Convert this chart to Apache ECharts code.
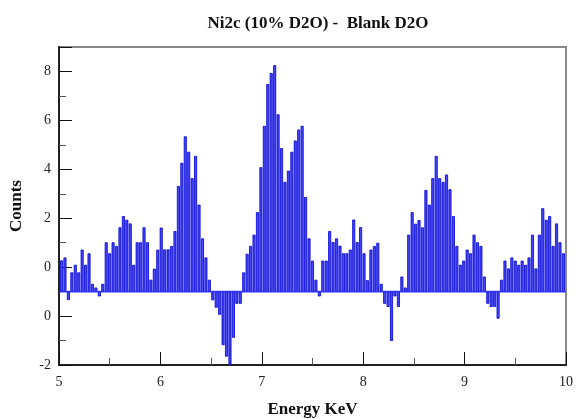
<!DOCTYPE html>
<html>
<head>
<meta charset="utf-8">
<title>Ni2c (10% D2O) - Blank D2O</title>
<script src="https://cdn.jsdelivr.net/npm/echarts@6/dist/echarts.min.js"></script>
<style>
  html, body { margin: 0; padding: 0; background: #fff; }
  #chart { width: 582px; height: 419px; }
</style>
</head>
<body>
<div id="chart"></div>
<script>
// Difference spectrum: counts per energy bin (bars drawn up/down from the baseline)
const firstBinCenter = 5.025;   // keV
const binWidth = 0.0339;        // keV
const baseline = -1;
const counts = [
  0.26, 0.38, -1.33, -0.23, 0.08, -0.23, 0.70, 0.08, 0.55, -0.70,
  -0.85, -1.18, -0.70, 1.00, 0.55, 1.00, 0.85, 1.61, 2.07, 1.92,
  1.77, 0.08, 1.00, 1.00, 1.61, 1.00, -0.53, -0.08, 0.70, 1.60,
  0.71, 0.71, 0.85, 1.46, 3.30, 4.25, 5.33, 4.70, 3.62, 4.53,
  2.54, 1.16, 0.38, -0.53, -1.34, -1.64, -1.93, -3.17, -3.64, -4.00,
  -2.87, -1.48, -1.48, -0.23, 0.53, 0.85, 1.31, 2.23, 4.07, 5.76,
  7.47, 7.92, 8.24, 6.23, 4.85, 3.47, 3.93, 4.70, 5.16, 5.61,
  5.76, 2.85, 1.16, 0.25, -0.53, -1.18, 0.25, 0.25, 1.46, 1.01,
  1.16, 0.86, 0.55, 0.55, 0.70, 1.93, 1.01, 1.62, 0.55, -0.55,
  0.70, 0.85, 0.98, -0.70, -1.48, -1.61, -3.00, -1.18, -1.61, -0.40,
  -0.85, 1.31, 2.23, 1.76, 1.91, 1.61, 3.14, 2.54, 3.62, 4.53,
  3.62, 3.47, 3.77, 3.17, 2.07, 0.85, 0.08, 0.25, 0.70, 0.55,
  1.31, 1.00, 0.85, -0.40, -1.48, -1.61, -1.61, -2.09, -0.53, 0.25,
  -0.07, 0.38, 0.25, 0.08, 0.25, 0.08, 0.38, 1.31, -0.07, 1.31,
  2.39, 1.92, 2.07, 0.85, 1.77, 1.00, 0.55
];

// Axis ticks and the text printed at them
const yTickValues = [8, 6, 4, 2, 0, -2, -4];
const yTickLabels = ['8', '6', '4', '2', '0', '0', '-2'];
const xTickLabels = ['5', '6', '7', '8', '9', '10'];

const barData = counts.map((v, i) => [firstBinCenter + i * binWidth, v]);

const serif = '"Liberation Serif", "Times New Roman", serif';
const chart = echarts.init(document.getElementById('chart'), null, { renderer: 'canvas' });

chart.setOption({
  animation: false,
  backgroundColor: '#ffffff',
  title: {
    text: 'Ni2c (10% D2O) -  Blank D2O',
    left: 313,
    top: 10,
    textAlign: 'center',
    textStyle: { fontFamily: serif, fontWeight: 'bold', fontSize: 17, color: '#111' }
  },
  grid: {
    left: 59, right: 16, top: 47, bottom: 54,
    containLabel: false,
    outerBoundsMode: 'none',
    show: true,
    borderColor: '#888',
    borderWidth: 2,
    backgroundColor: 'transparent'
  },
  xAxis: {
    type: 'value',
    min: 5, max: 10, interval: 1,
    name: 'Energy KeV',
    nameLocation: 'middle',
    nameGap: 36,
    nameTextStyle: { fontFamily: serif, fontWeight: 'bold', fontSize: 17, color: '#111' },
    axisLine: { show: true, onZero: false, lineStyle: { color: '#222', width: 2 } },
    axisTick: { show: true, inside: true, length: 13, lineStyle: { color: '#111', width: 1 } },
    minorTick: { show: true, splitNumber: 2, length: 7, lineStyle: { color: '#555', width: 1 } },
    axisLabel: {
      margin: 10,
      fontFamily: serif, fontSize: 14, color: '#222',
      formatter: (v) => {
        const i = Math.round(v) - 5;
        return (Math.abs(v - Math.round(v)) < 1e-6 && xTickLabels[i] !== undefined) ? xTickLabels[i] : '';
      }
    },
    splitLine: { show: false }
  },
  yAxis: {
    type: 'value',
    min: -4, max: 9, interval: 2,
    name: 'Counts',
    nameLocation: 'middle',
    nameGap: 34,
    nameTextStyle: { fontFamily: serif, fontWeight: 'bold', fontSize: 17, color: '#111' },
    axisLine: { show: true, onZero: false, lineStyle: { color: '#222', width: 2 } },
    axisTick: { show: true, inside: true, length: 13, lineStyle: { color: '#111', width: 1 } },
    minorTick: { show: true, splitNumber: 2, length: 7, lineStyle: { color: '#555', width: 1 } },
    axisLabel: {
      margin: 8,
      fontFamily: serif, fontSize: 14, color: '#222',
      formatter: (v) => {
        const i = yTickValues.indexOf(v);
        return i >= 0 ? yTickLabels[i] : '';
      }
    },
    splitLine: { show: false }
  },
  series: [
    {
      type: 'custom',
      name: 'counts',
      clip: true,
      data: barData,
      encode: { x: 0, y: 1 },
      renderItem: (params, api) => {
        const x = api.value(0);
        const v = api.value(1);
        const half = binWidth * 0.32;
        const p0 = api.coord([x - half, baseline]);
        const p1 = api.coord([x + half, v]);
        return {
          type: 'rect',
          shape: {
            x: p0[0],
            y: Math.min(p0[1], p1[1]),
            width: p1[0] - p0[0],
            height: Math.abs(p1[1] - p0[1])
          },
          style: { fill: '#4646f4', stroke: '#0000d4', lineWidth: 0.8 }
        };
      }
    },
    {
      type: 'line',
      name: 'baseline',
      data: [[5, baseline], [10, baseline]],
      symbol: 'none',
      silent: true,
      z: 5,
      lineStyle: { color: '#2f2fff', width: 1.6, opacity: 0.9 }
    }
  ]
});
</script>
</body>
</html>
